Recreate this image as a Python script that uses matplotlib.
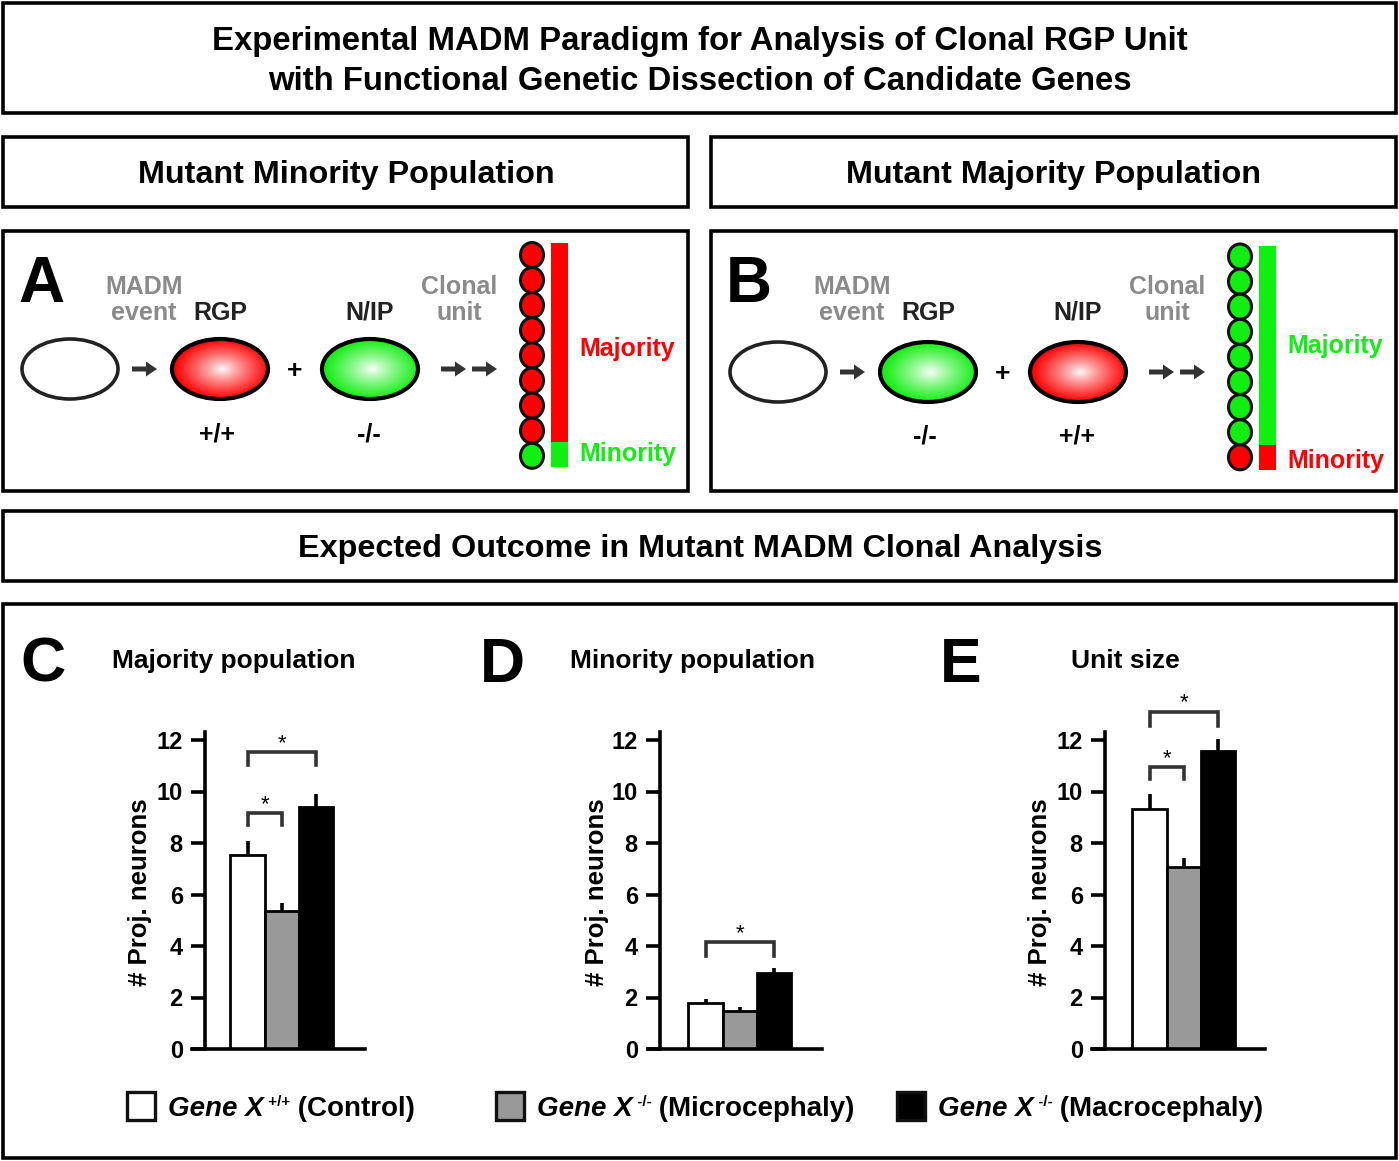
import numpy as np
import matplotlib.pyplot as plt
import matplotlib.colors as mcolors
from matplotlib.patches import Rectangle, Ellipse, FancyArrow

W, H = 1399, 1161
plt.rcParams['font.family'] = ['Liberation Sans', 'DejaVu Sans']
plt.rcParams['font.weight'] = 'bold'

# ---- data ----
title_lines = ["Experimental MADM Paradigm for Analysis of Clonal RGP Unit",
               "with Functional Genetic Dissection of Candidate Genes"]
legend_names = ["(Control)", "(Microcephaly)", "(Macrocephaly)"]
legend_geno = ["+/+", "-/-", "-/-"]
bar_colors = ["white", "#999999", "black"]

majority_mean = [7.53, 5.36, 9.40]
majority_err = [0.55, 0.31, 0.50]
minority_mean = [1.79, 1.48, 2.95]
minority_err = [0.15, 0.15, 0.20]
unit_mean = [9.32, 7.07, 11.57]
unit_err = [0.58, 0.35, 0.47]
# significance brackets: (bar a, bar b, bracket height, leg end)
majority_sig = [(0, 1, 9.17, 8.70), (0, 2, 11.53, 11.03)]
minority_sig = [(0, 2, 4.15, 3.60)]
unit_sig = [(0, 1, 10.95, 10.48), (0, 2, 13.10, 12.55)]
yticks = [0, 2, 4, 6, 8, 10, 12]

# clonal unit: cells in majority / minority
n_major = 8
n_minor = 1

RED = "#ff0000"
GREEN = "#11ee11"
GRAY_TXT = "#8a8a8a"

fig = plt.figure(figsize=(W / 100, H / 100), dpi=100)
bg = fig.add_axes([0, 0, 1, 1])
bg.set_xlim(0, W)
bg.set_ylim(H, 0)
bg.axis('off')


def box(x0, y0, x1, y1):
    bg.add_patch(Rectangle((x0, y0), x1 - x0, y1 - y0, fc='none', ec='black', lw=2.6))


# boxes
box(3, 3, 1396, 113)
box(3, 137, 688, 207)
box(711, 137, 1396, 207)
box(3, 231, 688, 491)
box(711, 231, 1396, 491)
box(3, 511, 1396, 581)
box(3, 604, 1396, 1158)

bg.text(700, 50, title_lines[0], ha='center', va='baseline', fontsize=23.7)
bg.text(700, 90, title_lines[1], ha='center', va='baseline', fontsize=23.7)
bg.text(346, 183, "Mutant Minority Population", ha='center', va='baseline', fontsize=23.3)
bg.text(1054, 183, "Mutant Majority Population", ha='center', va='baseline', fontsize=23.3)
bg.text(700, 557, "Expected Outcome in Mutant MADM Clonal Analysis", ha='center', va='baseline', fontsize=23.3)


def grad_ellipse(cx, cy, color, w=96, h=60):
    n = 200
    xx, yy = np.meshgrid(np.linspace(-1, 1, n), np.linspace(-1, 1, n))
    r = np.clip(np.sqrt((xx - 0.05) ** 2 + yy ** 2), 0, 1) ** 0.85
    base = np.array(mcolors.to_rgb(color))
    img = (1 - r[..., None]) + r[..., None] * base
    im = bg.imshow(img, extent=(cx - w / 2, cx + w / 2, cy + h / 2, cy - h / 2),
                   zorder=2, interpolation='bilinear', aspect='auto')
    e = Ellipse((cx, cy), w, h, fc='none', ec='black', lw=3, zorder=3)
    bg.add_patch(e)
    im.set_clip_path(e)


def arrow(x0, x1, y):
    bg.add_patch(FancyArrow(x0, y, x1 - x0, 0, width=5, head_width=15, head_length=11,
                            length_includes_head=True, color='#333333', lw=0))


def panel(dx, dy, letter, rgp_col, nip_col, rgp_g, nip_g, maj_col, min_col, col_x, bar_x):
    fs = 18
    bg.text(18 + dx, 302, letter, fontsize=46, va='baseline', ha='left')
    bg.text(144 + dx, 294, "MADM", color=GRAY_TXT, ha='center', va='baseline', fontsize=fs)
    bg.text(144 + dx, 320, "event", color=GRAY_TXT, ha='center', va='baseline', fontsize=fs)
    bg.text(220 + dx, 320, "RGP", color='#222222', ha='center', va='baseline', fontsize=fs)
    bg.text(370 + dx, 320, "N/IP", color='#222222', ha='center', va='baseline', fontsize=fs)
    bg.text(459 + dx, 294, "Clonal", color=GRAY_TXT, ha='center', va='baseline', fontsize=fs)
    bg.text(459 + dx, 320, "unit", color=GRAY_TXT, ha='center', va='baseline', fontsize=fs)
    cy = 369 + dy
    bg.add_patch(Ellipse((70 + dx, cy), 96, 60, fc='white', ec='#222222', lw=2.6, zorder=3))
    arrow(132 + dx, 157 + dx, cy)
    grad_ellipse(220 + dx, cy, rgp_col)
    bg.text(295 + dx, cy + 2, "+", ha='center', va='center', fontsize=19)
    grad_ellipse(370 + dx, cy, nip_col)
    arrow(441 + dx, 466 + dx, cy)
    arrow(472 + dx, 497 + dx, cy)
    bg.text(217 + dx, 442 + dy / 3, rgp_g, ha='center', va='baseline', fontsize=fs)
    bg.text(369 + dx, 442 + dy / 3, nip_g, ha='center', va='baseline', fontsize=fs)
    # clonal unit column
    n = n_major + n_minor
    top = 255 + dy / 2
    ys = top + 25.1 * np.arange(n)
    for i, yc in enumerate(ys):
        c = maj_col if i < n_major else min_col
        bg.add_patch(Ellipse((col_x, yc), 23, 25, fc=c, ec='#111111', lw=2.2, zorder=3))
    b_top, b_bot = 243 + dy, 467 + dy
    split = b_top + (b_bot - b_top) * n_major / n
    bg.add_patch(Rectangle((bar_x, b_top), 17, split - b_top, fc=maj_col, lw=0))
    bg.add_patch(Rectangle((bar_x, split), 17, b_bot - split, fc=min_col, lw=0))
    bg.text(bar_x + 28, 356 - dy, "Majority", color=maj_col, ha='left', va='baseline', fontsize=fs)
    bg.text(bar_x + 28, 461 + dy * 2.3, "Minority", color=min_col, ha='left', va='baseline', fontsize=fs)


panel(0, 0, "A", RED, GREEN, "+/+", "-/-", RED, GREEN, 532, 551)
panel(708, 3, "B", GREEN, RED, "-/-", "+/+", GREEN, RED, 1240, 1259)

# ---- bar charts ----
Y0, PX_UNIT = 1049, 25.75
YTOP = 12.3


def bar_chart(ax_left, ax_right, yaxis_px, c0, bw, means, errs, sigs):
    top_px = Y0 - YTOP * PX_UNIT
    ax = fig.add_axes([ax_left / W, 1 - Y0 / H, (ax_right - ax_left) / W, (Y0 - top_px) / H])
    ax.set_facecolor('none')
    x = np.arange(len(means))
    ax.bar(x, means, width=1.0, color=bar_colors, edgecolor='black', lw=2, zorder=2)
    ax.errorbar(x, means, yerr=[np.zeros(len(errs)), errs], fmt='none', ecolor='black',
                elinewidth=2.6, capsize=0, zorder=3)
    for a, b, h, leg in sigs:
        ax.plot([a, a, b, b], [leg, h, h, leg], color='#333333', lw=2.6, clip_on=False,
                solid_joinstyle='miter')
        ax.text((a + b) / 2, h + 0.12, "*", ha='center', va='baseline', fontsize=16,
                fontweight='normal')
    ax.set_xlim((ax_left - c0) / bw, (ax_right - c0) / bw)
    ax.set_ylim(0, YTOP)
    for s in ['top', 'right']:
        ax.spines[s].set_visible(False)
    ax.spines['left'].set_position(('data', (yaxis_px - c0) / bw))
    ax.spines['left'].set_linewidth(2.6)
    ax.spines['bottom'].set_linewidth(2.6)
    ax.set_xticks([])
    ax.set_yticks(yticks)
    ax.tick_params(axis='y', direction='out', length=10, width=2.6, pad=6, labelsize=17)
    for lab in ax.get_yticklabels():
        lab.set_fontweight('bold')
    return ax


bar_chart(192, 365, 205, 247.5, 34.3, majority_mean, majority_err, majority_sig)
bar_chart(649, 822, 660, 705.5, 34.3, minority_mean, minority_err, minority_sig)
bar_chart(1092, 1265, 1105, 1149.5, 34.3, unit_mean, unit_err, unit_sig)

for lx, letter, tx, title, ylx in [(20, "C", 234, "Majority population", 140),
                                    (480, "D", 693, "Minority population", 597),
                                    (940, "E", 1125, "Unit size", 1040)]:
    bg.text(lx, 682, letter, fontsize=45, ha='left', va='baseline')
    bg.text(tx, 668, title, fontsize=19, ha='center', va='baseline')
    bg.text(ylx, 892, "# Proj. neurons", fontsize=18.5, rotation=90, ha='center', va='center')

# ---- legend ----
renderer = fig.canvas.get_renderer()


def text_run(x, y, pieces):
    for s, dy, kw in pieces:
        t = bg.text(x, y + dy, s, ha='left', va='baseline', **kw)
        bb = t.get_window_extent(renderer)
        x = bg.transData.inverted().transform((bb.x1, bb.y0))[0]


for sq_x, col, name, geno in zip([127, 496, 897], bar_colors, legend_names, legend_geno):
    bg.add_patch(Rectangle((sq_x, 1092), 28, 28, fc=col, ec='#111111', lw=2.4))
    text_run(sq_x + 41, 1116, [("Gene X", 0, dict(fontsize=20, style='italic')),
                               (" " + geno, -10, dict(fontsize=11)),
                               (" " + name, 0, dict(fontsize=20))])

fig.savefig("out.png", dpi=100)
